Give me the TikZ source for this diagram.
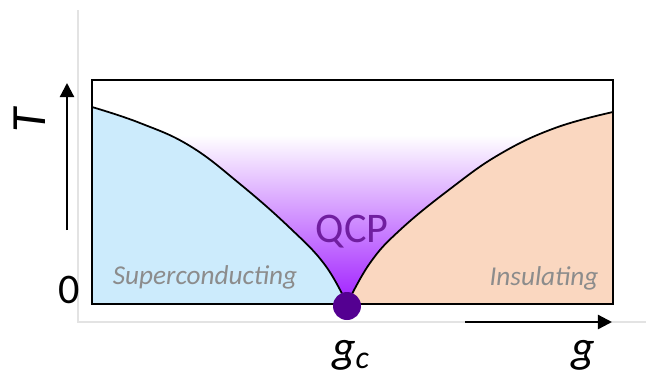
\documentclass[tikz,border=0pt]{standalone}
\usepackage{fontspec}
\setmainfont{Carlito}
\usetikzlibrary{arrows.meta}
\definecolor{scblue}{RGB}{204,235,252}
\definecolor{inspeach}{RGB}{250,215,192}
\definecolor{qcpviolet}{RGB}{112,30,160}
\definecolor{qcpglow}{RGB}{160,30,255}
\definecolor{qcpdot}{RGB}{84,0,145}
\definecolor{phasegray}{RGB}{140,140,140}

\begin{document}
\begin{tikzpicture}[x=0.02cm, y=-0.02cm,
  frame/.style={draw=black, line width=1.4pt},
  bdry/.style={black, line width=1pt},
  axisarr/.style={-{Triangle[length=8pt,width=8pt]}, line width=1.3pt},
  phase/.style={font=\fontsize{15.5}{18}\selectfont\itshape, text=phasegray, anchor=base},
  axlbl/.style={font=\fontsize{26}{30}\selectfont\itshape, anchor=base},
  guide/.style={draw=gray!22, line width=0.6pt},
]
  \useasboundingbox (0,0) rectangle (646,380);
  % faint guide axes
  \draw[guide] (78,10) -- (78,322) -- (646,322);
  % critical fan above the QCP
  \shade[top color=white, middle color=qcpglow!35, bottom color=qcpglow]
    (92,135) rectangle (613,304);
  % ordered phases
  \fill[scblue] (92,304) -- plot[smooth, tension=0.7] coordinates
    {(92,107) (140,123) (190,146) (240,184) (290,228) (325,265)
     (347,304)} -- cycle;
  \fill[inspeach] (347,304) -- plot[smooth, tension=0.7] coordinates
    {(347,304) (370,263) (400,230) (450,189) (500,154) (555,128)
     (613,112)} -- (613,304) -- cycle;
  \draw[bdry] plot[smooth, tension=0.7] coordinates
    {(92,107) (140,123) (190,146) (240,184) (290,228) (325,265)
     (347,304)};
  \draw[bdry] plot[smooth, tension=0.7] coordinates
    {(347,304) (370,263) (400,230) (450,189) (500,154) (555,128)
     (613,112)};
  \draw[frame] (92,80) rectangle (613,304);
  % labels
  \node[phase] (sc) at (205,284) {Superconducting};
  \node[phase] (ins) at (544,285) {Insulating};
  \node[font=\fontsize{24}{28}\selectfont, text=qcpviolet, anchor=base]
    (qcplbl) at (352,242) {QCP};
  \node[circle, fill=qcpdot, minimum size=0.56cm, inner sep=0pt]
    (qcp) at (347,306) {};
  % axes
  \coordinate (Tfoot) at (67,230);
  \coordinate (Thead) at (67,83);
  \draw[axisarr] (Tfoot) -- (Thead);
  \coordinate (gfoot) at (465,322);
  \coordinate (ghead) at (612,322);
  \draw[axisarr] (gfoot) -- (ghead);
  \node[font=\fontsize{28}{32}\selectfont\itshape, rotate=90]
    (Tlbl) at (30,121) {T};
  \node[font=\fontsize{24}{28}\selectfont, anchor=base] (zero) at (69,303) {0};
  \node[axlbl] (gc) at (351,362) {g\textsubscript{c}};
  \node[axlbl] (g) at (583,362) {g};
\end{tikzpicture}
\end{document}
